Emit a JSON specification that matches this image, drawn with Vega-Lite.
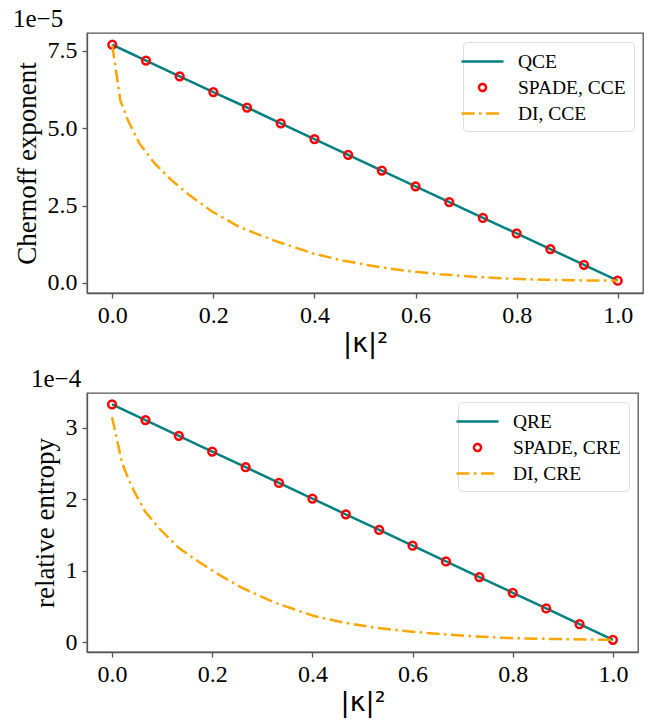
{
  "$schema": "https://vega.github.io/schema/vega-lite/v6.json",
  "background": "white",
  "padding": {"left": 12, "top": 6, "right": 2, "bottom": 2},
  "bounds": "flush",
  "spacing": 100,
  "datasets": {
    "top": [
      {"series": "QCE", "x": 0.0, "y": 7.70},
      {"series": "QCE", "x": 0.0667, "y": 7.19},
      {"series": "QCE", "x": 0.1333, "y": 6.68},
      {"series": "QCE", "x": 0.2, "y": 6.17},
      {"series": "QCE", "x": 0.2667, "y": 5.67},
      {"series": "QCE", "x": 0.3333, "y": 5.16},
      {"series": "QCE", "x": 0.4, "y": 4.65},
      {"series": "QCE", "x": 0.4667, "y": 4.14},
      {"series": "QCE", "x": 0.5333, "y": 3.63},
      {"series": "QCE", "x": 0.6, "y": 3.12},
      {"series": "QCE", "x": 0.6667, "y": 2.61},
      {"series": "QCE", "x": 0.7333, "y": 2.10},
      {"series": "QCE", "x": 0.8, "y": 1.60},
      {"series": "QCE", "x": 0.8667, "y": 1.09},
      {"series": "QCE", "x": 0.9333, "y": 0.58},
      {"series": "QCE", "x": 1.0, "y": 0.07},
      {"series": "SPADE, CCE", "x": 0.0, "y": 7.70},
      {"series": "SPADE, CCE", "x": 0.0667, "y": 7.19},
      {"series": "SPADE, CCE", "x": 0.1333, "y": 6.68},
      {"series": "SPADE, CCE", "x": 0.2, "y": 6.17},
      {"series": "SPADE, CCE", "x": 0.2667, "y": 5.67},
      {"series": "SPADE, CCE", "x": 0.3333, "y": 5.16},
      {"series": "SPADE, CCE", "x": 0.4, "y": 4.65},
      {"series": "SPADE, CCE", "x": 0.4667, "y": 4.14},
      {"series": "SPADE, CCE", "x": 0.5333, "y": 3.63},
      {"series": "SPADE, CCE", "x": 0.6, "y": 3.12},
      {"series": "SPADE, CCE", "x": 0.6667, "y": 2.61},
      {"series": "SPADE, CCE", "x": 0.7333, "y": 2.10},
      {"series": "SPADE, CCE", "x": 0.8, "y": 1.60},
      {"series": "SPADE, CCE", "x": 0.8667, "y": 1.09},
      {"series": "SPADE, CCE", "x": 0.9333, "y": 0.58},
      {"series": "SPADE, CCE", "x": 1.0, "y": 0.07},
      {"series": "DI, CCE", "x": 0.0, "y": 7.68},
      {"series": "DI, CCE", "x": 0.016, "y": 5.90},
      {"series": "DI, CCE", "x": 0.031, "y": 5.26},
      {"series": "DI, CCE", "x": 0.054, "y": 4.50},
      {"series": "DI, CCE", "x": 0.084, "y": 3.86},
      {"series": "DI, CCE", "x": 0.117, "y": 3.32},
      {"series": "DI, CCE", "x": 0.153, "y": 2.83},
      {"series": "DI, CCE", "x": 0.199, "y": 2.29},
      {"series": "DI, CCE", "x": 0.252, "y": 1.80},
      {"series": "DI, CCE", "x": 0.318, "y": 1.38},
      {"series": "DI, CCE", "x": 0.397, "y": 0.95},
      {"series": "DI, CCE", "x": 0.45, "y": 0.74},
      {"series": "DI, CCE", "x": 0.516, "y": 0.54},
      {"series": "DI, CCE", "x": 0.58, "y": 0.39},
      {"series": "DI, CCE", "x": 0.648, "y": 0.28},
      {"series": "DI, CCE", "x": 0.72, "y": 0.19},
      {"series": "DI, CCE", "x": 0.78, "y": 0.14},
      {"series": "DI, CCE", "x": 0.85, "y": 0.10},
      {"series": "DI, CCE", "x": 0.912, "y": 0.08},
      {"series": "DI, CCE", "x": 1.0, "y": 0.07}
    ],
    "bottom": [
      {"series": "QRE", "x": 0.0, "y": 3.33},
      {"series": "QRE", "x": 0.0667, "y": 3.11},
      {"series": "QRE", "x": 0.1333, "y": 2.89},
      {"series": "QRE", "x": 0.2, "y": 2.67},
      {"series": "QRE", "x": 0.2667, "y": 2.45},
      {"series": "QRE", "x": 0.3333, "y": 2.23},
      {"series": "QRE", "x": 0.4, "y": 2.01},
      {"series": "QRE", "x": 0.4667, "y": 1.79},
      {"series": "QRE", "x": 0.5333, "y": 1.57},
      {"series": "QRE", "x": 0.6, "y": 1.35},
      {"series": "QRE", "x": 0.6667, "y": 1.13},
      {"series": "QRE", "x": 0.7333, "y": 0.91},
      {"series": "QRE", "x": 0.8, "y": 0.69},
      {"series": "QRE", "x": 0.8667, "y": 0.47},
      {"series": "QRE", "x": 0.9333, "y": 0.25},
      {"series": "QRE", "x": 1.0, "y": 0.03},
      {"series": "SPADE, CRE", "x": 0.0, "y": 3.33},
      {"series": "SPADE, CRE", "x": 0.0667, "y": 3.11},
      {"series": "SPADE, CRE", "x": 0.1333, "y": 2.89},
      {"series": "SPADE, CRE", "x": 0.2, "y": 2.67},
      {"series": "SPADE, CRE", "x": 0.2667, "y": 2.45},
      {"series": "SPADE, CRE", "x": 0.3333, "y": 2.23},
      {"series": "SPADE, CRE", "x": 0.4, "y": 2.01},
      {"series": "SPADE, CRE", "x": 0.4667, "y": 1.79},
      {"series": "SPADE, CRE", "x": 0.5333, "y": 1.57},
      {"series": "SPADE, CRE", "x": 0.6, "y": 1.35},
      {"series": "SPADE, CRE", "x": 0.6667, "y": 1.13},
      {"series": "SPADE, CRE", "x": 0.7333, "y": 0.91},
      {"series": "SPADE, CRE", "x": 0.8, "y": 0.69},
      {"series": "SPADE, CRE", "x": 0.8667, "y": 0.47},
      {"series": "SPADE, CRE", "x": 0.9333, "y": 0.25},
      {"series": "SPADE, CRE", "x": 1.0, "y": 0.03},
      {"series": "DI, CRE", "x": 0.0, "y": 3.15},
      {"series": "DI, CRE", "x": 0.02, "y": 2.51},
      {"series": "DI, CRE", "x": 0.033, "y": 2.28},
      {"series": "DI, CRE", "x": 0.045, "y": 2.10},
      {"series": "DI, CRE", "x": 0.066, "y": 1.83},
      {"series": "DI, CRE", "x": 0.096, "y": 1.58},
      {"series": "DI, CRE", "x": 0.133, "y": 1.32},
      {"series": "DI, CRE", "x": 0.176, "y": 1.11},
      {"series": "DI, CRE", "x": 0.219, "y": 0.92},
      {"series": "DI, CRE", "x": 0.262, "y": 0.75},
      {"series": "DI, CRE", "x": 0.326, "y": 0.55},
      {"series": "DI, CRE", "x": 0.405, "y": 0.36},
      {"series": "DI, CRE", "x": 0.465, "y": 0.27},
      {"series": "DI, CRE", "x": 0.525, "y": 0.20},
      {"series": "DI, CRE", "x": 0.59, "y": 0.15},
      {"series": "DI, CRE", "x": 0.658, "y": 0.11},
      {"series": "DI, CRE", "x": 0.72, "y": 0.08},
      {"series": "DI, CRE", "x": 0.79, "y": 0.056},
      {"series": "DI, CRE", "x": 0.86, "y": 0.045},
      {"series": "DI, CRE", "x": 0.923, "y": 0.038},
      {"series": "DI, CRE", "x": 1.0, "y": 0.03}
    ]
  },
  "config": {
    "view": {"stroke": "#555555", "strokeWidth": 1.3},
    "axis": {
      "domainColor": "#555555", "domainWidth": 1.3,
      "tickColor": "#555555", "tickWidth": 1.3, "tickSize": 5,
      "labelFont": "Liberation Serif", "labelFontSize": 24, "labelColor": "black",
      "labelPadding": 5,
      "titleFont": "Liberation Serif", "titleFontSize": 27, "titleFontWeight": "normal", "titleColor": "black",
      "grid": false
    },
    "title": {"font": "Liberation Serif", "fontSize": 25, "fontWeight": "normal", "anchor": "start", "offset": 1, "color": "black"},
    "legend": {
      "orient": "top-right", "offset": 9, "title": null,
      "labelFont": "Liberation Serif", "labelFontSize": 19.5, "labelColor": "black",
      "strokeColor": "#dddddd", "cornerRadius": 4, "fillColor": "white", "padding": 8,
      "rowPadding": 5, "symbolSize": 400, "symbolStrokeWidth": 2.5, "labelOffset": 24
    }
  },
  "resolve": {"scale": {"color": "independent"}, "legend": {"color": "independent"}},
  "vconcat": [
    {
      "width": 556, "height": 260,
      "title": {"text": "1e−5"},
      "data": {"name": "top"},
      "encoding": {
        "x": {"field": "x", "type": "quantitative", "scale": {"domain": [-0.05, 1.05], "nice": false, "zero": false},
              "axis": {"values": [0, 0.2, 0.4, 0.6, 0.8, 1.0], "format": ".1f", "title": "|κ|²", "titleFont": "DejaVu Sans", "titleFontSize": 27, "titlePadding": 3, "labelFlush": false}},
        "y": {"field": "y", "type": "quantitative", "scale": {"domain": [-0.33, 8.08], "nice": false, "zero": false},
              "axis": {"values": [0, 2.5, 5, 7.5], "format": ".1f", "title": "Chernoff exponent", "titlePadding": 6}},
        "color": {"field": "series", "type": "nominal",
                  "scale": {"domain": ["QCE", "SPADE, CCE", "DI, CCE"], "range": ["#008080", "#ff0000", "#ffa500"]},
                  "legend": {"encode": {"symbols": {"update": {
                    "shape": {"signal": "datum.value === 'SPADE, CCE' ? 'circle' : 'M-2.1,0H2.1'"},
                    "size": {"signal": "datum.value === 'SPADE, CCE' ? 50 : 400"},
                    "fill": {"value": "transparent"},
                    "strokeDash": {"signal": "datum.value === 'DI, CCE' ? [13,4.5,2.5,4.5] : [1,0]"},
                    "strokeWidth": {"value": 2.5}
                  }}}}}
      },
      "layer": [
        {"transform": [{"filter": "datum.series === 'QCE'"}], "mark": {"type": "line", "strokeWidth": 2.5}},
        {"transform": [{"filter": "datum.series === 'SPADE, CCE'"}], "mark": {"type": "point", "filled": false, "strokeWidth": 2.5, "size": 60, "opacity": 1}},
        {"transform": [{"filter": "datum.series === 'DI, CCE'"}], "mark": {"type": "line", "strokeWidth": 2.5, "strokeDash": [13, 4.5, 2.5, 4.5]}}
      ]
    },
    {
      "width": 551, "height": 259,
      "title": {"text": "1e−4"},
      "data": {"name": "bottom"},
      "encoding": {
        "x": {"field": "x", "type": "quantitative", "scale": {"domain": [-0.05, 1.05], "nice": false, "zero": false},
              "axis": {"values": [0, 0.2, 0.4, 0.6, 0.8, 1.0], "format": ".1f", "title": "|κ|²", "titleFont": "DejaVu Sans", "titleFontSize": 27, "titlePadding": 3, "labelFlush": false}},
        "y": {"field": "y", "type": "quantitative", "scale": {"domain": [-0.14, 3.49], "nice": false, "zero": false},
              "axis": {"values": [0, 1, 2, 3], "format": "d", "title": "relative entropy", "titlePadding": 6}},
        "color": {"field": "series", "type": "nominal",
                  "scale": {"domain": ["QRE", "SPADE, CRE", "DI, CRE"], "range": ["#008080", "#ff0000", "#ffa500"]},
                  "legend": {"encode": {"symbols": {"update": {
                    "shape": {"signal": "datum.value === 'SPADE, CRE' ? 'circle' : 'M-2.1,0H2.1'"},
                    "size": {"signal": "datum.value === 'SPADE, CRE' ? 50 : 400"},
                    "fill": {"value": "transparent"},
                    "strokeDash": {"signal": "datum.value === 'DI, CRE' ? [13,4.5,2.5,4.5] : [1,0]"},
                    "strokeWidth": {"value": 2.5}
                  }}}}}
      },
      "layer": [
        {"transform": [{"filter": "datum.series === 'QRE'"}], "mark": {"type": "line", "strokeWidth": 2.5}},
        {"transform": [{"filter": "datum.series === 'SPADE, CRE'"}], "mark": {"type": "point", "filled": false, "strokeWidth": 2.5, "size": 60, "opacity": 1}},
        {"transform": [{"filter": "datum.series === 'DI, CRE'"}], "mark": {"type": "line", "strokeWidth": 2.5, "strokeDash": [13, 4.5, 2.5, 4.5]}}
      ]
    }
  ]
}
